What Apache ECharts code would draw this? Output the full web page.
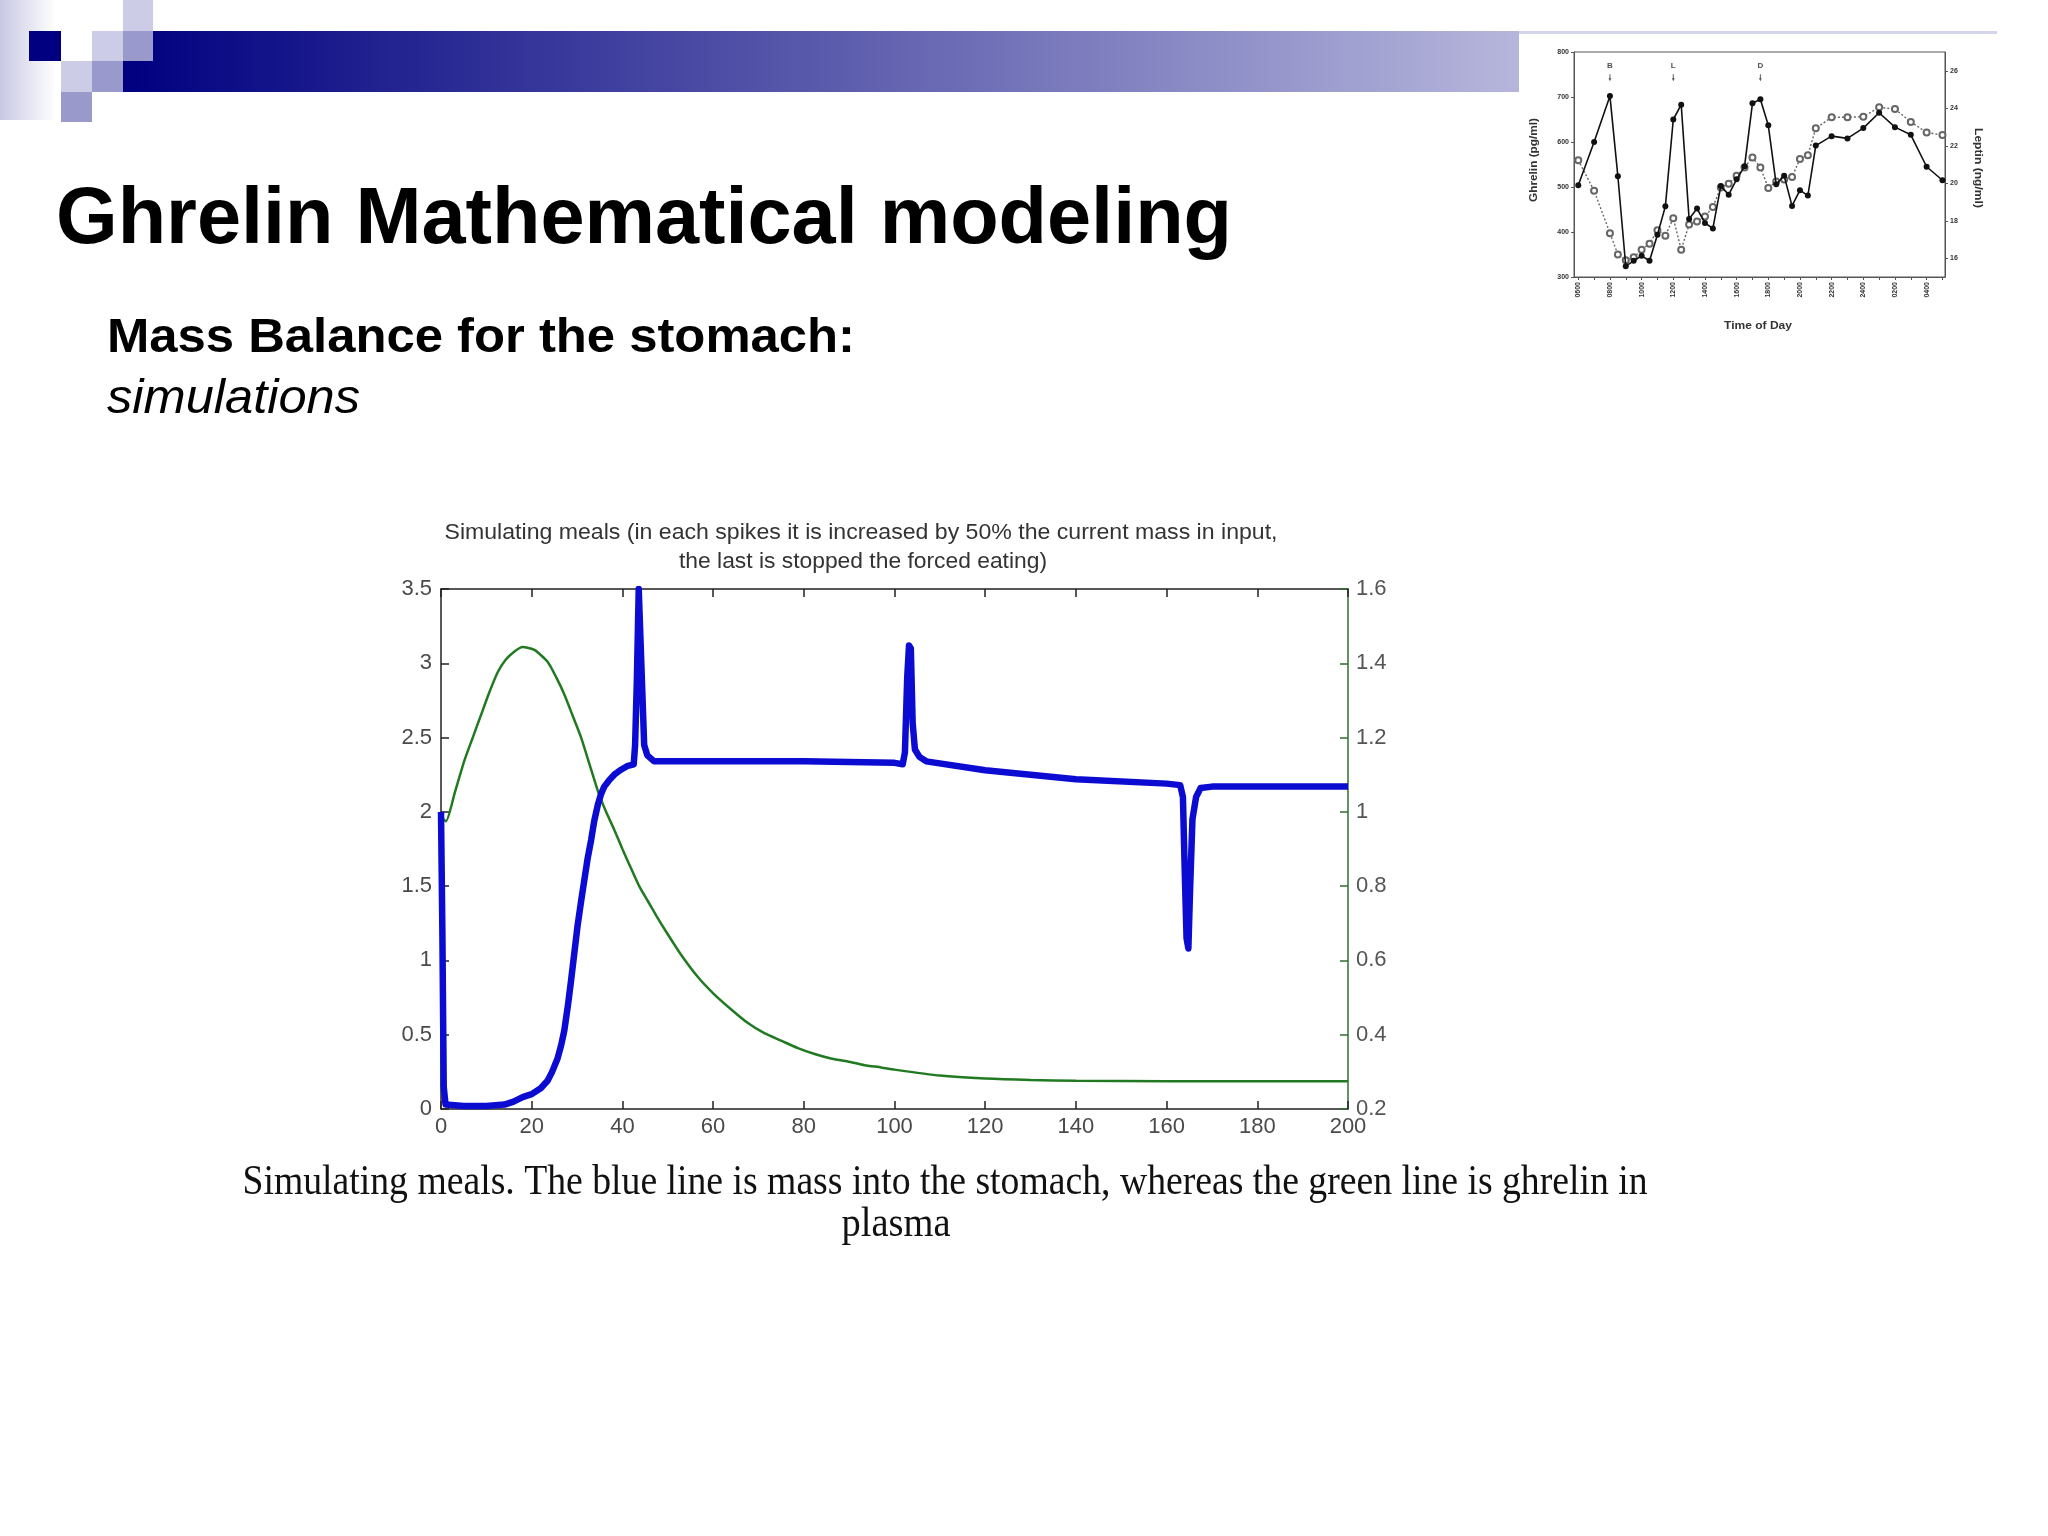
<!DOCTYPE html>
<html><head><meta charset="utf-8">
<script src="https://cdn.jsdelivr.net/npm/echarts@6/dist/echarts.min.js"></script>
<style>html,body{margin:0;padding:0;background:#fff}#c{width:2048px;height:1536px}</style>
</head><body><div id="c"></div>
<script>
// ---------- main simulation chart data ----------
const simTime = [0,0.3,0.6,1,5,10,14,16,18,20,22,23.5,24.5,25.7,26.5,27.2,28,28.7,29.4,30.1,30.9,31.6,32.3,33.1,33.8,34.6,35.3,36,37,38.2,39.5,41.2,42.5,42.8,43.2,43.6,44,44.4,44.8,45.5,47,60,80,100,101.8,102.3,102.8,103.2,103.6,104,104.5,105.5,107,120,140,160,163,163.6,164,164.4,164.8,165.2,165.7,166.5,167.5,170,185,200];
const stomachMass = [2.0,1.2,0.15,0.03,0.02,0.02,0.03,0.05,0.08,0.1,0.14,0.19,0.25,0.34,0.43,0.53,0.7,0.87,1.05,1.23,1.4,1.54,1.68,1.81,1.94,2.05,2.12,2.17,2.21,2.25,2.28,2.31,2.32,2.45,2.9,3.5,3.5,2.8,2.45,2.38,2.34,2.34,2.34,2.33,2.32,2.4,2.9,3.12,3.1,2.6,2.42,2.37,2.34,2.28,2.22,2.19,2.18,2.1,1.6,1.15,1.08,1.5,1.95,2.1,2.16,2.17,2.17,2.17];
const ghrelinTime = [0,1.1,3,5.1,7,8.8,10.6,12.5,14.3,16.2,18,20.6,23.5,25.5,27.2,29,30.9,32.7,34.6,36.4,38.2,40,41.9,43.7,45.6,47.5,49.3,52.9,56.6,60.3,64,67.6,71.3,75,78.7,82.4,86,89.7,93.4,97.1,100,110,120,130,140,160,180,200];
const ghrelinPlasma = [0.985,0.975,1.05,1.136,1.2,1.26,1.32,1.376,1.41,1.432,1.444,1.436,1.404,1.36,1.316,1.26,1.2,1.13,1.056,1.0,0.952,0.9,0.848,0.8,0.76,0.72,0.684,0.616,0.556,0.508,0.468,0.432,0.404,0.384,0.364,0.348,0.336,0.328,0.318,0.312,0.306,0.29,0.282,0.278,0.276,0.275,0.275,0.275];

// ---------- inset (time of day) chart data ----------
const dayHours = [0,1,2,2.5,3,3.5,4,4.5,5,5.5,6,6.5,7,7.5,8,8.5,9,9.5,10,10.5,11,11.5,12,12.5,13,13.5,14,14.5,15,16,17,18,19,20,21,22,23];
const insetGhrelin = [504,600,702,524,324,336,347,336,394,457,650,683,429,452,420,408,502,483,517,546,686,695,637,506,525,458,493,481,592,613,608,631,665,633,616,545,515];
const insetLeptin = [21.23,19.6,17.34,16.2,15.9,16.05,16.46,16.77,17.5,17.2,18.14,16.46,17.8,17.96,18.23,18.73,19.77,19.98,20.4,20.84,21.38,20.84,19.75,20.1,20.2,20.34,21.29,21.5,22.93,23.52,23.52,23.55,24.05,23.96,23.27,22.71,22.57];
const timeLabels = ['0600','0800','1000','1200','1400','1600','1800','2000','2200','2400','0200','0400'];
const timeLabelHours = [0,2,4,6,8,10,12,14,16,18,20,22];
const hourTicks = [0,1,2,3,4,5,6,7,8,9,10,11,12,13,14,15,16,17,18,19,20,21,22,23];
const leptinTicks = [16,18,20,22,24,26];
const mealLabels = ['B','L','D'];
const mealHours = [2,6,11.5];

// ---------- text fitting helper ----------
const mctx = document.createElement('canvas').getContext('2d');
function txt(str, x, y, o) {
  const size = o.size, weight = o.weight || 'normal', fstyle = o.style || 'normal';
  const fam = o.family || 'Liberation Sans';
  let sx = 1;
  if (o.width) {
    mctx.font = fstyle + ' ' + weight + ' ' + size + 'px "' + fam + '"';
    sx = o.width / mctx.measureText(str).width;
  }
  return {type: 'text', x: x, y: y, scaleX: sx, rotation: o.rotation || 0, z: 50,
    style: {text: str, fontSize: size, fontWeight: weight, fontStyle: fstyle, fontFamily: fam,
      fill: o.color || '#000', align: o.align || 'left', verticalAlign: 'middle'}};
}
function rect(x, y, w, h, fill, z) {
  return {type: 'rect', shape: {x: x, y: y, width: w, height: h}, style: {fill: fill}, z: z, silent: true};
}

const light = '#ccccE6', mid = '#9999CC', navy = '#000080';
const graphics = [
  rect(0, 0, 56, 120, new echarts.graphic.LinearGradient(0, 0, 1, 0, [{offset: 0, color: '#c8c8e4'}, {offset: 1, color: '#ffffff'}]), 1),
  rect(123, 31, 1396, 61, new echarts.graphic.LinearGradient(0, 0, 1, 0, [{offset: 0, color: '#000080'}, {offset: 0.5, color: '#5a5aac'}, {offset: 1, color: '#b6b6dc'}]), 1),
  rect(1519, 31, 478, 3, '#d4d4ec', 1),
  rect(29, 31, 32, 30, navy, 2),
  rect(123, 0, 30, 31, light, 2),
  rect(92, 31, 31, 30, light, 2),
  rect(123, 31, 30, 30, mid, 2),
  rect(61, 61, 31, 31, light, 2),
  rect(92, 61, 31, 31, mid, 2),
  rect(61, 92, 31, 30, mid, 2),
  rect(1519, 34, 480, 312, '#ffffff', 1),
  txt('Ghrelin Mathematical modeling', 56, 221, {size: 80, weight: 'bold', width: 1176}),
  txt('Mass Balance for the stomach:', 107, 339, {size: 48, weight: 'bold', width: 748}),
  txt('simulations', 107, 400, {size: 48, style: 'italic', width: 253}),
  txt('Simulating meals (in each spikes it is increased by 50% the current mass in input,', 861, 533, {size: 22, color: '#333', width: 833, align: 'center'}),
  txt('the last is stopped the forced eating)', 863, 562, {size: 22, color: '#333', width: 368, align: 'center'}),
  txt('Simulating meals. The blue line is mass into the stomach, whereas the green line is ghrelin in', 945, 1183, {size: 42, family: 'Liberation Serif', color: '#111', width: 1405, align: 'center'}),
  txt('plasma', 896, 1225, {size: 42, family: 'Liberation Serif', color: '#111', width: 109, align: 'center'}),
  txt('Ghrelin (pg/ml)', 1534, 160, {size: 10, weight: 'bold', color: '#333', width: 84, align: 'center', rotation: Math.PI / 2}),
  txt('Leptin (ng/ml)', 1978, 168, {size: 10, weight: 'bold', color: '#333', width: 80, align: 'center', rotation: -Math.PI / 2}),
  txt('Time of Day', 1758, 326, {size: 10, weight: 'bold', color: '#333', width: 68, align: 'center'})
];

const fmt1 = v => String(Math.round(v * 10) / 10);
const tickFont = {fontFamily: 'Liberation Sans', fontSize: 22, color: '#4a4a4a'};
const insetLbl = {fontFamily: 'Liberation Sans', fontSize: 7, fontWeight: 'bold', color: '#333'};
const green = '#2f6f2f';

const chart = echarts.init(document.getElementById('c'), null, {renderer: 'canvas'});
chart.setOption({
  animation: false,
  backgroundColor: '#ffffff',
  graphic: graphics,
  grid: [
    {left: 441, top: 589, width: 907, height: 520, containLabel: false},
    {left: 1574, top: 52, width: 371, height: 225, containLabel: false, show: true, borderColor: '#555', borderWidth: 1, backgroundColor: 'transparent', z: 60}
  ],
  xAxis: [
    {type: 'value', gridIndex: 0, position: 'bottom', min: 0, max: 200, interval: 20,
      axisLine: {show: true, onZero: false, lineStyle: {color: '#222', width: 1.5}},
      axisTick: {show: true, inside: true, length: 8, lineStyle: {color: '#222', width: 1.5}},
      axisLabel: Object.assign({margin: 7}, tickFont), splitLine: {show: false}},
    {type: 'value', gridIndex: 0, position: 'top', min: 0, max: 200, interval: 20,
      axisLine: {show: true, onZero: false, lineStyle: {color: '#222', width: 1.5}},
      axisTick: {show: true, inside: true, length: 8, lineStyle: {color: '#222', width: 1.5}},
      axisLabel: {show: false}, splitLine: {show: false}},
    {type: 'value', gridIndex: 1, position: 'bottom', min: -0.27, max: 23.16, z: 60,
      axisLine: {show: true, onZero: false, lineStyle: {color: '#555', width: 1}},
      axisTick: {show: true, inside: false, length: 3, customValues: hourTicks, lineStyle: {color: '#555'}},
      axisLabel: Object.assign({rotate: 90, margin: 5, customValues: timeLabelHours,
        formatter: v => timeLabels[Math.round(v / 2)]}, insetLbl),
      splitLine: {show: false}}
  ],
  yAxis: [
    {type: 'value', gridIndex: 0, position: 'left', min: 0, max: 3.5, interval: 0.5,
      axisLine: {show: true, onZero: false, lineStyle: {color: '#222', width: 1.5}},
      axisTick: {show: true, inside: true, length: 8, lineStyle: {color: '#222', width: 1.5}},
      axisLabel: Object.assign({margin: 9, formatter: fmt1}, tickFont), splitLine: {show: false}},
    {type: 'value', gridIndex: 0, position: 'right', min: 0.2, max: 1.6, interval: 0.2,
      axisLine: {show: true, onZero: false, lineStyle: {color: green, width: 1.5}},
      axisTick: {show: true, inside: true, length: 8, lineStyle: {color: green, width: 1.5}},
      axisLabel: Object.assign({margin: 8, formatter: fmt1}, tickFont, {color: '#555'}), splitLine: {show: false}},
    {type: 'value', gridIndex: 1, position: 'left', min: 300, max: 800, interval: 100, z: 60,
      axisLine: {show: true, onZero: false, lineStyle: {color: '#555'}},
      axisTick: {show: true, inside: false, length: 3, lineStyle: {color: '#555'}},
      axisLabel: Object.assign({margin: 5}, insetLbl), splitLine: {show: false}},
    {type: 'value', gridIndex: 1, position: 'right', min: 15, max: 27, z: 60,
      axisLine: {show: true, onZero: false, lineStyle: {color: '#555'}},
      axisTick: {show: true, inside: false, length: 3, customValues: leptinTicks, lineStyle: {color: '#555'}},
      axisLabel: Object.assign({margin: 5, customValues: leptinTicks}, insetLbl), splitLine: {show: false}}
  ],
  series: [
    {type: 'line', name: 'ghrelin', xAxisIndex: 0, yAxisIndex: 1, symbol: 'none', smooth: 0.2,
      data: ghrelinTime.map((t, i) => [t, ghrelinPlasma[i]]), lineStyle: {color: '#217a21', width: 2.5}, z: 3},
    {type: 'line', name: 'mass', xAxisIndex: 0, yAxisIndex: 0, symbol: 'none', clip: true,
      data: simTime.map((t, i) => [t, stomachMass[i]]), lineStyle: {color: '#0b0bd2', width: 6.5, join: 'round'}, z: 4},
    {type: 'line', name: 'leptin', xAxisIndex: 2, yAxisIndex: 3, symbol: 'emptyCircle', symbolSize: 6, showSymbol: true, z: 61,
      data: dayHours.map((t, i) => [t, insetLeptin[i]]),
      lineStyle: {color: '#666', width: 1.4, type: [2, 2]}, itemStyle: {color: '#666', borderColor: '#666', borderWidth: 1}},
    {type: 'line', name: 'ghrelinDay', xAxisIndex: 2, yAxisIndex: 2, symbol: 'circle', symbolSize: 6, showSymbol: true, z: 62,
      data: dayHours.map((t, i) => [t, insetGhrelin[i]]),
      lineStyle: {color: '#111', width: 1.6}, itemStyle: {color: '#111'}},
    {type: 'scatter', xAxisIndex: 2, yAxisIndex: 2, symbol: 'circle', symbolSize: 1, z: 63,
      data: mealHours.map((h, i) => ({value: [h, 769], name: mealLabels[i]})),
      itemStyle: {color: 'rgba(0,0,0,0)'},
      label: {show: true, position: 'inside', formatter: '{b}', fontFamily: 'Liberation Sans', fontSize: 8, fontWeight: 'bold', color: '#222'}},
    {type: 'scatter', xAxisIndex: 2, yAxisIndex: 2, z: 63,
      symbol: 'path://M1,0 L2,0 L2,6 L3,6 L1.5,10 L0,6 L1,6 Z', symbolSize: [3, 7],
      data: mealHours.map(h => [h, 743]), itemStyle: {color: '#333'}}
  ]
});
</script></body></html>
